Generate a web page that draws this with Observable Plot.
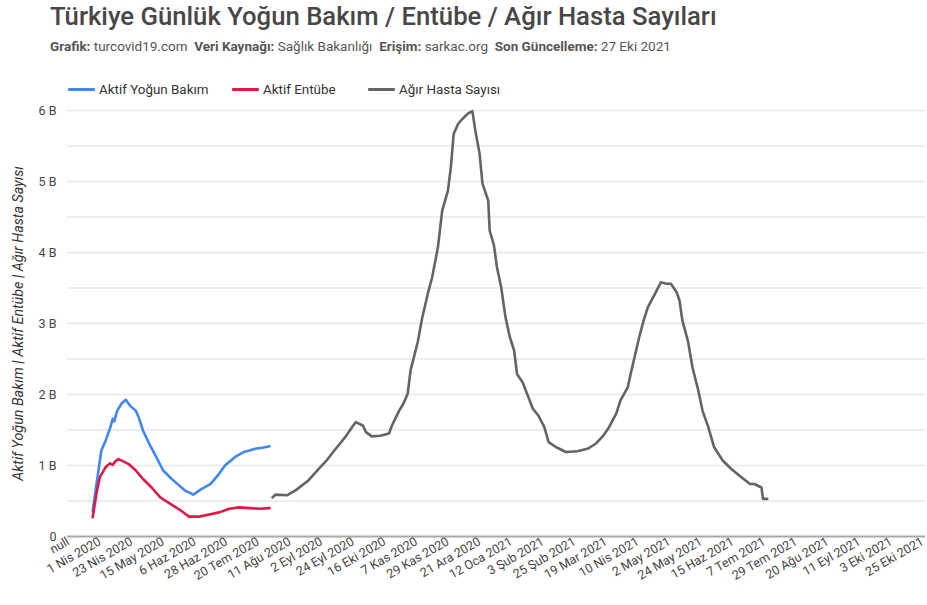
<!DOCTYPE html>
<html><head><meta charset="utf-8">
<script src="https://cdn.jsdelivr.net/npm/d3@7"></script>
<script src="https://cdn.jsdelivr.net/npm/@observablehq/plot@0.6"></script>
<style>
body{margin:0;background:#fff;font-family:Roboto,"Noto Sans",sans-serif;width:927px;height:605px;position:relative;overflow:hidden}
#title{position:absolute;left:50px;top:1px;font-size:25.7px;font-weight:500;color:#474747;white-space:nowrap}
#sub{position:absolute;left:50px;top:38px;font-size:13.5px;color:#555;white-space:nowrap}
#sub b{font-weight:700}
.item{position:absolute;top:81px;height:16px;display:flex;align-items:center;font-size:13.4px;color:#333;white-space:nowrap}
.sw{width:27px;height:3px;margin-right:4px;border-radius:1px}
#chart{position:absolute;left:0;top:100px}
</style>
</head><body>
<div id="title">Türkiye Günlük Yoğun Bakım / Entübe / Ağır Hasta Sayıları</div>
<div id="sub"><b>Grafik:</b> turcovid19.com&nbsp; <b>Veri Kaynağı:</b> Sağlık Bakanlığı&nbsp; <b>Erişim:</b> sarkac.org&nbsp; <b>Son Güncelleme:</b> 27 Eki 2021</div>
<div id="legend"></div>
<div id="chart"></div>
<script>
const seriesNames = ["Aktif Yoğun Bakım", "Aktif Entübe", "Ağır Hasta Sayısı"];
const seriesColors = ["#4285f4", "#dc1a45", "#646464"];

const blueDates = ["2020-03-27","2020-04-02","2020-04-05","2020-04-08","2020-04-10","2020-04-11","2020-04-13","2020-04-16","2020-04-19","2020-04-22","2020-04-26","2020-04-28","2020-05-01","2020-05-06","2020-05-11","2020-05-15","2020-05-21","2020-05-26","2020-05-30","2020-06-05","2020-06-10","2020-06-17","2020-06-22","2020-06-27","2020-07-04","2020-07-10","2020-07-14","2020-07-18","2020-07-23","2020-07-28"];
const blueValues = [360,1210,1350,1520,1660,1620,1770,1870,1925,1840,1770,1680,1490,1280,1090,930,810,720,650,590,660,740,860,1000,1120,1190,1210,1235,1250,1270];

const redDates = ["2020-03-27","2020-03-30","2020-04-01","2020-04-05","2020-04-08","2020-04-10","2020-04-12","2020-04-14","2020-04-18","2020-04-21","2020-04-26","2020-05-01","2020-05-07","2020-05-13","2020-05-20","2020-05-27","2020-06-02","2020-06-09","2020-06-16","2020-06-23","2020-06-30","2020-07-07","2020-07-14","2020-07-21","2020-07-28"];
const redValues = [270,650,835,976,1030,1010,1065,1090,1050,1020,930,810,690,550,460,370,280,280,310,340,390,410,400,390,400];

const grayDates = ["2020-07-30","2020-08-01","2020-08-09","2020-08-15","2020-08-24","2020-08-31","2020-09-06","2020-09-12","2020-09-19","2020-09-24","2020-09-26","2020-10-01","2020-10-03","2020-10-07","2020-10-13","2020-10-19","2020-10-21","2020-10-26","2020-10-29","2020-11-01","2020-11-03","2020-11-08","2020-11-11","2020-11-15","2020-11-18","2020-11-22","2020-11-25","2020-11-29","2020-12-01","2020-12-03","2020-12-06","2020-12-09","2020-12-13","2020-12-16","2020-12-18","2020-12-21","2020-12-23","2020-12-27","2020-12-28","2020-12-31","2021-01-02","2021-01-05","2021-01-08","2021-01-11","2021-01-14","2021-01-16","2021-01-20","2021-01-23","2021-01-27","2021-01-31","2021-02-04","2021-02-07","2021-02-12","2021-02-19","2021-02-27","2021-03-06","2021-03-12","2021-03-17","2021-03-21","2021-03-26","2021-03-29","2021-04-03","2021-04-05","2021-04-08","2021-04-11","2021-04-14","2021-04-17","2021-04-22","2021-04-26","2021-04-30","2021-05-03","2021-05-07","2021-05-09","2021-05-11","2021-05-15","2021-05-18","2021-05-22","2021-05-25","2021-05-29","2021-06-02","2021-06-08","2021-06-14","2021-06-21","2021-06-27","2021-06-30","2021-07-05","2021-07-06","2021-07-09"];
const grayValues = [550,590,580,650,790,950,1080,1235,1410,1560,1610,1560,1470,1410,1420,1450,1560,1770,1870,2010,2340,2740,3070,3420,3650,4070,4590,4870,5200,5670,5810,5880,5960,5990,5720,5390,4970,4730,4310,4100,3800,3510,3090,2810,2620,2290,2170,2010,1800,1700,1540,1330,1260,1190,1200,1235,1310,1420,1540,1730,1920,2100,2290,2550,2810,3040,3230,3420,3580,3560,3560,3440,3320,3040,2740,2380,2060,1770,1540,1260,1070,950,835,740,740,690,530,530];

const tickDates = ["2020-03-10","2020-04-01","2020-04-23","2020-05-15","2020-06-06","2020-06-28","2020-07-20","2020-08-11","2020-09-02","2020-09-24","2020-10-16","2020-11-07","2020-11-29","2020-12-21","2021-01-12","2021-02-03","2021-02-25","2021-03-19","2021-04-10","2021-05-02","2021-05-24","2021-06-15","2021-07-07","2021-07-29","2021-08-20","2021-09-11","2021-10-03","2021-10-25"];
const tickLabels = ["null","1 Nis 2020","23 Nis 2020","15 May 2020","6 Haz 2020","28 Haz 2020","20 Tem 2020","11 Ağu 2020","2 Eyl 2020","24 Eyl 2020","16 Eki 2020","7 Kas 2020","29 Kas 2020","21 Ara 2020","12 Oca 2021","3 Şub 2021","25 Şub 2021","19 Mar 2021","10 Nis 2021","2 May 2021","24 May 2021","15 Haz 2021","7 Tem 2021","29 Tem 2021","20 Ağu 2021","11 Eyl 2021","3 Eki 2021","25 Eki 2021"];
const yTicks = [0,1000,2000,3000,4000,5000,6000];
const yTickLabels = ["0","1 B","2 B","3 B","4 B","5 B","6 B"];
const yGrid = [500,1000,1500,2000,2500,3000,3500,4000,4500,5000,5500,6000];
const yAxisTitle = "Aktif Yoğun Bakım | Aktif Entübe | Ağır Hasta Sayısı";

const parse = d3.utcParse("%Y-%m-%d");
const mk = (dates, vals, s) => dates.map((d, i) => ({date: parse(d), value: vals[i], series: s}));
const blue = mk(blueDates, blueValues, seriesNames[0]);
const red = mk(redDates, redValues, seriesNames[1]);
const gray = mk(grayDates, grayValues, seriesNames[2]);

const tickObjs = tickDates.map(parse);
const labelMap = new Map(tickObjs.map((d, i) => [+d, tickLabels[i]]));
const yLabelMap = new Map(yTicks.map((d, i) => [d, yTickLabels[i]]));

// legend
const legendLefts = [68, 232, 368];
const legend = document.getElementById("legend");
seriesNames.forEach((n, i) => {
  const it = document.createElement("div");
  it.className = "item";
  it.style.left = legendLefts[i] + "px";
  it.innerHTML = `<span class="sw" style="background:${seriesColors[i]}"></span><span>${n}</span>`;
  legend.appendChild(it);
});

const chart = Plot.plot({
  width: 927, height: 505,
  marginTop: 10, marginBottom: 69, marginLeft: 67, marginRight: 2,
  style: {fontFamily: "Roboto, 'Noto Sans', sans-serif", fontSize: "12px", color: "#444", background: "#fff", overflow: "visible"},
  x: {type: "utc", domain: [new Date(Date.UTC(2020,2,9,12)), new Date(Date.UTC(2021,9,27))], label: null},
  y: {domain: [0, 6000], label: null},
  marks: [
    Plot.ruleY(yGrid, {stroke: "#e8e8e8", strokeWidth: 1.5}),
    Plot.ruleY([0], {stroke: "#a8a8a8", strokeWidth: 2}),
    Plot.axisY({ticks: yTicks, tickSize: 0, tickPadding: 11, tickFormat: d => yLabelMap.get(d), fontSize: 12.5, label: null}),
    Plot.axisX({ticks: tickObjs, tickSize: 0, tickPadding: 4, tickRotate: -30, tickFormat: d => labelMap.get(+d), fontSize: 12.5, label: null}),
    Plot.text([yAxisTitle], {frameAnchor: "left", textAnchor: "middle", rotate: -90, dx: -49, fontStyle: "italic", fontSize: 14.3, fill: "#333"}),
    Plot.lineY(blue, {x: "date", y: "value", stroke: seriesColors[0], strokeWidth: 2.6}),
    Plot.lineY(red, {x: "date", y: "value", stroke: seriesColors[1], strokeWidth: 2.6}),
    Plot.lineY(gray, {x: "date", y: "value", stroke: seriesColors[2], strokeWidth: 2.6})
  ]
});
document.getElementById("chart").appendChild(chart);
</script>
</body></html>
